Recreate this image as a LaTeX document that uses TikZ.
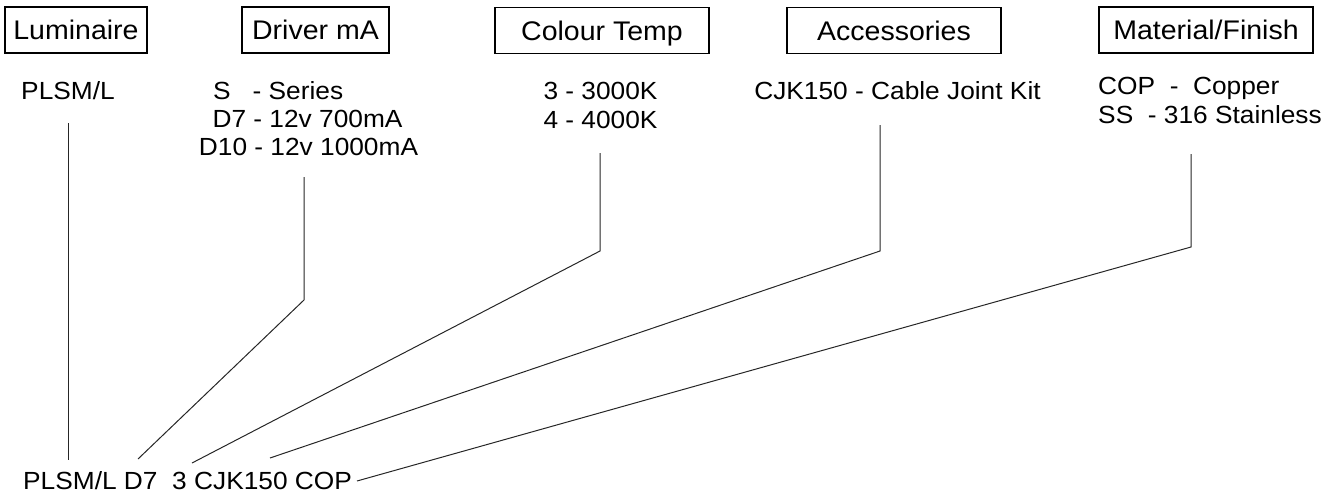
\documentclass[tikz,border=0pt]{standalone}
\usepackage{fontspec}
\setmainfont{Liberation Sans}[FakeStretch=1.06]

\tikzset{
  headbox/.style={draw, line width=1.3, minimum height=46, inner sep=0,
    text height=19.3pt, text depth=0pt,
    font=\fontsize{26.9}{30}\selectfont},
  opttext/.style={anchor=base, inner sep=0, font=\fontsize{24.8}{28}\selectfont},
  leader/.style={line width=1, draw=black!85}
}

\begin{document}
\begin{tikzpicture}[x=1pt,y=-1pt]
        \useasboundingbox (0,0) rectangle (1343,493);

        % Headings
        \node (lum) at (76,30) [headbox, minimum width=142] {Luminaire};
        \node (drv) at (315.5,30) [headbox, minimum width=147] {Driver mA};
        \node (ctp) at (602,30.5) [headbox, minimum width=214] {Colour Temp};
        \node (acc) at (894,30.5) [headbox, minimum width=214] {Accessories};
        \node (mat) at (1206,30) [headbox, minimum width=214] {Material/Finish};

        % Options
        \node (lumA) at (68,99) [opttext] {PLSM/L};
        \node (drvA) at (213,99) [opttext, anchor=base west] {S\ \ \ - Series};
        \node (drvB) at (307.5,127) [opttext] {D7 - 12v 700mA};
        \node (drvC) at (308.5,155) [opttext] {D10 - 12v 1000mA};
        \node (ctpA) at (600.5,99) [opttext] {3 - 3000K};
        \node (ctpB) at (600.5,128) [opttext] {4 - 4000K};
        \node (accA) at (897.5,99) [opttext] {CJK150 - Cable Joint Kit};
        \node (matA) at (1098,94) [opttext, anchor=base west] {COP\ \ -\ \ Copper};
        \node (matB) at (1098,123) [opttext, anchor=base west] {SS\ \ -\ 316 Stainless};

        % Code
        \node (code) at (23,489) [opttext, anchor=base west] {PLSM/L D7\ \ 3 CJK150 COP};

        % Leader points
        \coordinate (lumtop) at (68,123);
        \coordinate (lumend) at (68,460);
        \coordinate (drvtop) at (304,177);
        \coordinate (drvbend) at (304,300);
        \coordinate (drvend) at (138,459);
        \coordinate (ctptop) at (600,153);
        \coordinate (ctpbend) at (600,251);
        \coordinate (ctpend) at (192,463);
        \coordinate (acctop) at (880,125);
        \coordinate (accbend) at (880,251);
        \coordinate (accend) at (270,458);
        \coordinate (mattop) at (1191,154);
        \coordinate (matbend) at (1191,247);
        \coordinate (matend) at (357,481);

        % Leaders
        \draw[leader] (lumtop) -- (lumend);
        \draw[leader] (drvtop) -- (drvbend) -- (drvend);
        \draw[leader] (ctptop) -- (ctpbend) -- (ctpend);
        \draw[leader] (acctop) -- (accbend) -- (accend);
        \draw[leader] (mattop) -- (matbend) -- (matend);
    \end{tikzpicture}
\end{document}
